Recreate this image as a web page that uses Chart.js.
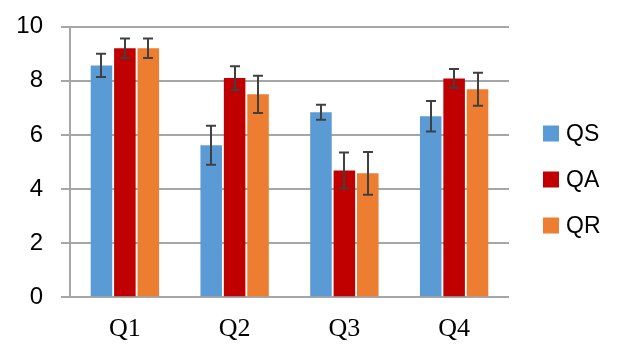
<!DOCTYPE html>
<html>
<head>
<meta charset="utf-8">
<script src="https://cdn.jsdelivr.net/npm/chart.js@4"></script>
<style>
  html, body { margin: 0; padding: 0; background: #fff; }
  #wrap { width: 620px; height: 358px; position: relative; }
</style>
</head>
<body>
<div id="wrap"><canvas id="grafico"></canvas></div>
<script>
// Datos
const categorias = ["Q1", "Q2", "Q3", "Q4"];
const series = ["QS", "QA", "QR"];
const valoresQS = [8.57, 5.62, 6.84, 6.69];
const valoresQA = [9.20, 8.10, 4.69, 8.09];
const valoresQR = [9.20, 7.50, 4.58, 7.69];
const errorQS = [0.43, 0.72, 0.28, 0.56];
const errorQA = [0.36, 0.44, 0.66, 0.35];
const errorQR = [0.36, 0.69, 0.79, 0.61];
const ticksY = [0, 2, 4, 6, 8, 10];

const colores = ["#5B9BD5", "#C00000", "#ED7D31"];
const valores = [valoresQS, valoresQA, valoresQR];
const errores = [errorQS, errorQA, errorQR];

// Barras de error dibujadas sobre cada barra
const barrasError = {
  id: "barrasError",
  afterDatasetsDraw(chart) {
    const ctx = chart.ctx;
    const y = chart.scales.y;
    ctx.save();
    ctx.strokeStyle = "#404040";
    ctx.lineWidth = 2;
    chart.data.datasets.forEach((ds, i) => {
      chart.getDatasetMeta(i).data.forEach((barra, j) => {
        const v = ds.data[j];
        const e = ds.errores[j];
        const x = Math.round(barra.x);
        const yArriba = y.getPixelForValue(v + e);
        const yAbajo = y.getPixelForValue(v - e);
        ctx.beginPath();
        ctx.moveTo(x, yArriba);
        ctx.lineTo(x, yAbajo);
        ctx.moveTo(x - 5, yArriba);
        ctx.lineTo(x + 5, yArriba);
        ctx.moveTo(x - 5, yAbajo);
        ctx.lineTo(x + 5, yAbajo);
        ctx.stroke();
      });
    });
    ctx.restore();
  }
};

// Leyenda a la derecha
const leyenda = {
  id: "leyenda",
  afterDraw(chart) {
    const ctx = chart.ctx;
    ctx.save();
    ctx.font = "23px 'Liberation Sans', Arial, sans-serif";
    ctx.textBaseline = "middle";
    chart.data.datasets.forEach((ds, i) => {
      const yc = 133.5 + i * 46;
      ctx.fillStyle = ds.backgroundColor;
      ctx.fillRect(543, yc - 8, 16, 16);
      ctx.fillStyle = "#000";
      ctx.fillText(ds.label, 566, yc + 1);
    });
    ctx.restore();
  }
};

const config = {
  type: "bar",
  data: {
    labels: categorias,
    datasets: series.map((nombre, i) => ({
      label: nombre,
      data: valores[i],
      errores: errores[i],
      backgroundColor: colores[i],
      borderWidth: 0,
      categoryPercentage: 0.64,
      barPercentage: 0.92
    }))
  },
  options: {
    responsive: false,
    animation: false,
    devicePixelRatio: 1,
    layout: { padding: { top: 26.7, right: 111, bottom: 0, left: 6 } },
    plugins: {
      legend: { display: false },
      tooltip: { enabled: false }
    },
    scales: {
      x: {
        grid: { display: false, drawTicks: false },
        border: { display: false },
        afterFit: (eje) => { eje.height = 60.7; },
        ticks: {
          color: "#000",
          padding: 16,
          font: { family: "'Liberation Serif', 'Times New Roman', serif", size: 26 }
        }
      },
      y: {
        min: 0,
        max: 10,
        afterBuildTicks: (eje) => { eje.ticks = ticksY.map(v => ({ value: v })); },
        afterFit: (eje) => {
          eje.width = 64;
          eje.paddingTop = 0;
          eje.paddingBottom = 0;
        },
        grid: { color: "#A6A6A6", lineWidth: 2, tickLength: 9, drawTicks: true },
        border: { display: true, color: "#A6A6A6", width: 2 },
        ticks: {
          color: "#000",
          padding: 18,
          font: { family: "'Liberation Sans', Arial, sans-serif", size: 24 }
        }
      }
    }
  },
  plugins: [barrasError, leyenda]
};

const lienzo = document.getElementById("grafico");
lienzo.width = 620;
lienzo.height = 358;
new Chart(lienzo.getContext("2d"), config);
</script>
</body>
</html>
